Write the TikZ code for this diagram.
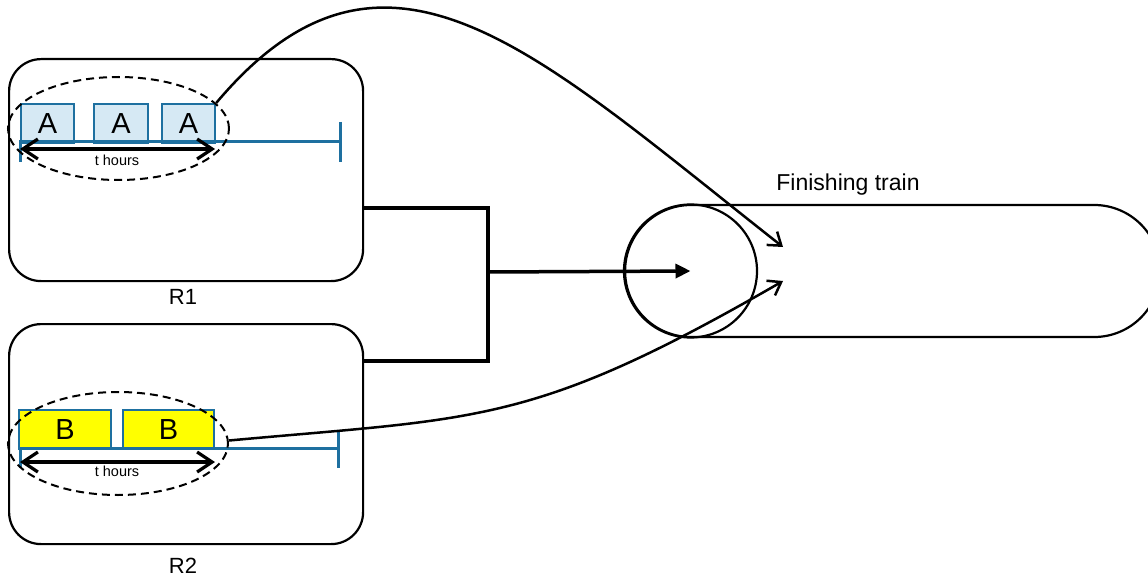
\documentclass[tikz,border=0pt]{standalone}
\usepackage{fontspec}
\setmainfont{Liberation Sans}
\usetikzlibrary{arrows.meta,shapes.geometric}
\definecolor{tlblue}{RGB}{30,112,160}
\definecolor{afill}{RGB}{214,233,244}
\definecolor{byellow}{RGB}{255,255,0}
\begin{document}
\begin{tikzpicture}[x=1pt,y=-1pt,
  region/.style={draw, line width=2.2pt, rounded corners=32pt, inner sep=0pt, anchor=north west},
  slot/.style={draw=tlblue, line width=2.2pt, inner sep=0pt, anchor=north west, font=\fontsize{29}{30}\selectfont},
  timeline/.style={draw=tlblue, line width=3pt},
  span/.style={line width=3.2pt, {Straight Barb[length=15pt,width=20pt]}-{Straight Barb[length=15pt,width=20pt]}},
  group/.style={draw, ellipse, dash pattern=on 8pt off 5pt, line width=2pt, inner sep=0pt},
  feed/.style={line width=2.5pt, -{Straight Barb[length=12pt,width=17pt]}},
  bracket/.style={line width=3.5pt},
  lbl/.style={font=\fontsize{22}{26}\selectfont},
  small/.style={font=\fontsize{14.5}{16}\selectfont}
]
\useasboundingbox (0,0) rectangle (1148,580);
\clip (0,0) rectangle (1148,580);

% regions
\node[region, minimum width=354pt, minimum height=222pt] (r1) at (8,58) {};
\node[region, minimum width=354pt, minimum height=220pt] (r2) at (8,323) {};
\node[lbl] (r1lbl) at (183,297) {R1};
\node[lbl] (r2lbl) at (183,566) {R2};

% R1 contents
\node[slot, fill=afill, minimum width=53pt, minimum height=39pt] (a1) at (20,103) {A};
\node[slot, fill=afill, minimum width=54pt, minimum height=39pt] (a2) at (93,103) {A};
\node[slot, fill=afill, minimum width=53pt, minimum height=39pt] (a3) at (161,103) {A};
\draw[timeline] (20,162) -- (20,142) -- (340,142);
\draw[timeline] (340,122) -- (340,162);
\coordinate (s1l) at (20,149);
\coordinate (s1r) at (215,149);
\draw[span] (s1l) -- (s1r);
\node[small] (t1) at (117,160) {t hours};
\node[group, minimum width=221pt, minimum height=103pt] (g1) at (118.5,128.5) {};

% R2 contents
\node[slot, fill=byellow, minimum width=92pt, minimum height=39pt] (b1) at (18,409) {B};
\node[slot, fill=byellow, minimum width=91pt, minimum height=39pt] (b2) at (122,409) {B};
\draw[timeline] (20,468) -- (20,448) -- (338,448);
\draw[timeline] (338,430) -- (338,468);
\coordinate (s2l) at (20,462);
\coordinate (s2r) at (215,462);
\draw[span] (s2l) -- (s2r);
\node[small] (t2) at (117,471) {t hours};
\node[group, minimum width=220pt, minimum height=103pt] (g2) at (118,443.5) {};

% finishing train
\node[draw, line width=2.2pt, rounded corners=65.9pt, minimum width=535pt, minimum height=132pt, inner sep=0pt, anchor=west] (train) at (624,271) {};
\node[draw, circle, line width=2.2pt, minimum size=133pt, inner sep=0pt] (drum) at (690.5,271) {};
\node[font=\fontsize{23}{26}\selectfont] (trainlbl) at (848,185) {Finishing train};

% bracket connector
\coordinate (mtop) at (488,208);
\coordinate (mbot) at (488,361);
\coordinate (mmid) at (488,272);
\draw[bracket] (r1.east |- mtop) -- (mtop) -- (mbot) -- (r2.east |- mbot);
\draw[bracket, -{Triangle[length=15pt,width=14pt]}] (mmid) -- (drum.center);

% feeds
\coordinate (in1) at (783,247);
\coordinate (in2) at (783,281);
\draw[feed] (a3.north east) .. controls (385,-98) and (535,52) .. (in1);
\draw[feed] ([yshift=3pt]g2.east) .. controls (479,417.5) and (532,426) .. (in2);
\end{tikzpicture}
\end{document}
